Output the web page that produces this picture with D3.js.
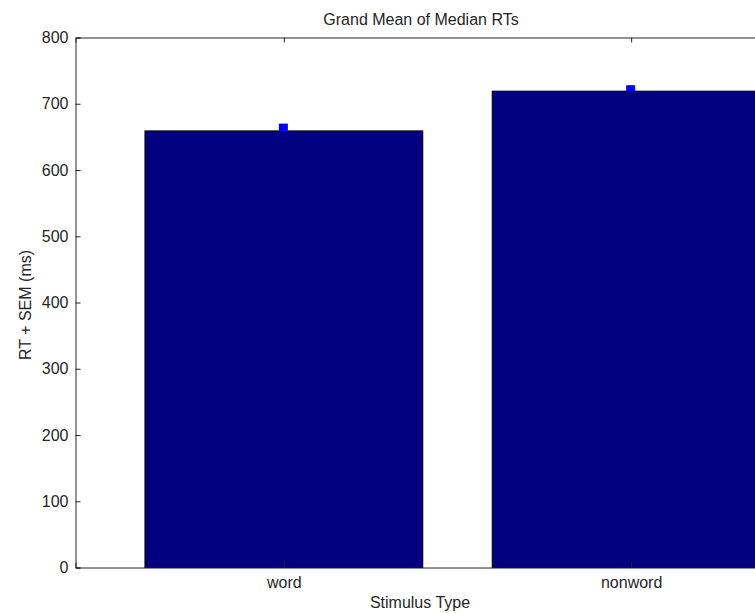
<!DOCTYPE html>
<html><head><meta charset="utf-8">
<script src="https://cdn.jsdelivr.net/npm/d3@7"></script>
<style>
html,body{margin:0;padding:0;background:#fff;}
svg text{font-family:"Liberation Sans",Arial,sans-serif;fill:#262626;}
</style></head>
<body>
<svg id="chart" width="755" height="613"></svg>
<script>
const categories = ["word", "nonword"];
const meanRT = [659, 719];
const semRT = [11, 9];
const yTicks = [0, 100, 200, 300, 400, 500, 600, 700, 800];
const titleText = "Grand Mean of Median RTs";
const xLabel = "Stimulus Type";
const yLabel = "RT + SEM (ms)";

(function () {
const svg = d3.select("#chart");
const pLeft = 75.5, pRight = 839.5, pTop = 37.5, pBottom = 567.5;
const x = d3.scaleLinear().domain([0.4, 2.6]).range([pLeft, pRight]);
const y = d3.scaleLinear().domain([0, 800]).range([pBottom, pTop]);
const barW = 0.8;
const axisColor = "#262626";

// bars
svg.append("g").selectAll("rect").data(categories).join("rect")
  .attr("x", (d, i) => x(i + 1 - barW / 2))
  .attr("width", (d, i) => x(i + 1 + barW / 2) - x(i + 1 - barW / 2))
  .attr("y", (d, i) => y(meanRT[i]))
  .attr("height", (d, i) => y(0) - y(meanRT[i]))
  .attr("fill", "#000080")
  .attr("stroke", "#000")
  .attr("stroke-width", 1);

// error markers (mean to mean + SEM)
svg.append("g").selectAll("rect").data(categories).join("rect")
  .attr("x", (d, i) => x(i + 1) - 5)
  .attr("width", 9)
  .attr("y", (d, i) => y(meanRT[i] + semRT[i]))
  .attr("height", (d, i) => y(meanRT[i]) - y(meanRT[i] + semRT[i]))
  .attr("fill", "#0000ff");

// y axis
const yAxis = d3.axisLeft(y).tickValues(yTicks).tickSize(-5).tickPadding(7).tickFormat(d3.format("d"));
const gy = svg.append("g").attr("transform", `translate(${pLeft},0)`).call(yAxis);
gy.select(".domain").attr("stroke", axisColor);
gy.selectAll(".tick line").attr("stroke", axisColor);
gy.selectAll(".tick text").style("font-size", "16px").attr("fill", "#262626");

// x axis bottom
const xAxis = d3.axisBottom(x).tickValues([1, 2]).tickSize(-5).tickPadding(9)
  .tickFormat(d => categories[d - 1]);
const gx = svg.append("g").attr("transform", `translate(0,${pBottom})`).call(xAxis);
gx.select(".domain").attr("stroke", axisColor);
gx.selectAll(".tick line").attr("stroke", axisColor);
gx.selectAll(".tick text").style("font-size", "16px").attr("fill", "#262626");

// top border
const xTop = d3.axisTop(x).tickValues([1, 2]).tickSize(-5).tickFormat("");
const gt = svg.append("g").attr("transform", `translate(0,${pTop})`).call(xTop);
gt.select(".domain").attr("stroke", axisColor);
gt.selectAll(".tick line").attr("stroke", axisColor);

// title
svg.append("text").attr("x", 421).attr("y", 25).attr("text-anchor", "middle")
  .style("font-size", "16px").text(titleText);
// x label
svg.append("text").attr("x", 420).attr("y", 608).attr("text-anchor", "middle")
  .style("font-size", "16px").text(xLabel);
// y label
svg.append("text").attr("transform", "translate(31,305) rotate(-90)").attr("text-anchor", "middle")
  .style("font-size", "16px").text(yLabel);
})();
</script>
</body></html>
